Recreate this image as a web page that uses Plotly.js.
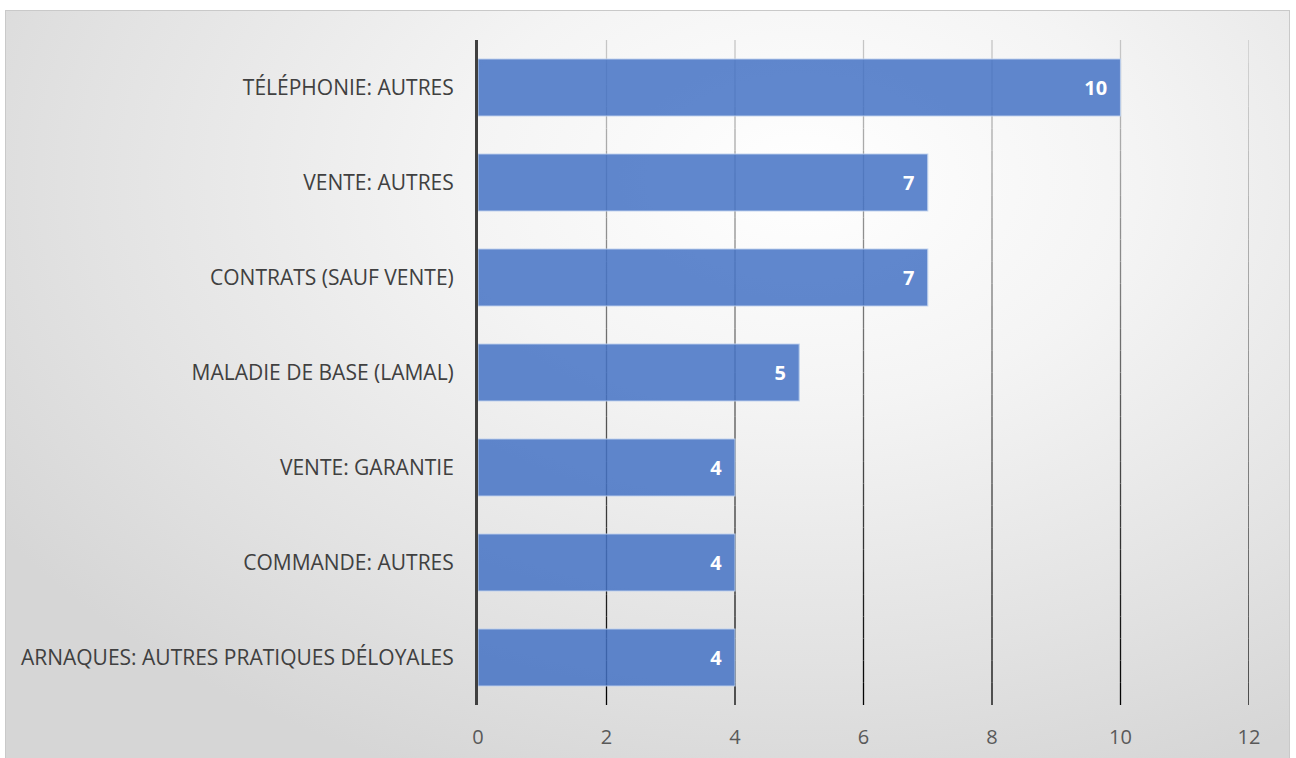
<!DOCTYPE html>
<html>
<head>
<meta charset="utf-8">
<script src="https://cdn.plot.ly/plotly-3.0.1.min.js"></script>
<style>
  html, body { margin: 0; padding: 0; width: 1296px; height: 758px; overflow: hidden; background: #ffffff; }
  #bg {
    position: absolute; left: 5px; top: 10px; width: 1285px; height: 760px;
    border: 1px solid #c9c9c9; box-sizing: border-box;
    background: radial-gradient(ellipse 75% 85% at 62% 22%, #ffffff 0%, #f4f4f4 35%, #e2e2e2 75%, #d6d6d6 100%);
  }
  #chart { position: absolute; left: 0; top: 0; width: 1296px; height: 758px; }
</style>
</head>
<body>
<div id="bg"></div>
<div id="chart"></div>
<script>
const categories = [
  "TÉLÉPHONIE: AUTRES",
  "VENTE: AUTRES",
  "CONTRATS (SAUF VENTE)",
  "MALADIE DE BASE (LAMAL)",
  "VENTE: GARANTIE",
  "COMMANDE: AUTRES",
  "ARNAQUES: AUTRES PRATIQUES DÉLOYALES"
];
const values = [10, 7, 7, 5, 4, 4, 4];
const xTicks = [0, 2, 4, 6, 8, 10, 12];

// gradient gridlines (light at top, black at bottom), built from tick values
const shapes = [];
const nSeg = 30;
xTicks.slice(1).forEach(function (t) {
  for (let i = 0; i < nSeg; i++) {
    const f = (i + 0.5) / nSeg; // 0 bottom -> 1 top
    const g = Math.round(0 + f * 200);
    shapes.push({
      type: 'line', xref: 'x', yref: 'paper', layer: 'below',
      x0: t, x1: t, y0: i / nSeg, y1: (i + 1) / nSeg,
      line: { color: 'rgb(' + g + ',' + g + ',' + g + ')', width: 1.3 }
    });
  }
});

const trace = {
  type: 'bar', orientation: 'h',
  y: categories, x: values,
  marker: { color: 'rgba(68,114,196,0.85)', line: { color: 'rgba(190,208,236,0.9)', width: 1.2 } },
  texttemplate: '<b>%{x}</b>\u00a0\u00a0',
  textposition: 'inside', insidetextanchor: 'end',
  textfont: { family: 'Open Sans, sans-serif', size: 20, color: '#ffffff' },
  hoverinfo: 'skip', cliponaxis: false
};

const layout = {
  width: 1296, height: 758,
  margin: { l: 478, r: 47, t: 40, b: 53, pad: 0 },
  paper_bgcolor: 'rgba(0,0,0,0)', plot_bgcolor: 'rgba(0,0,0,0)',
  showlegend: false,
  bargap: 0.4,
  shapes: shapes,
  xaxis: {
    range: [0, 12], tickvals: xTicks, ticktext: xTicks.map(String),
    showgrid: false, zeroline: false, showline: false, ticks: '',
    ticklabelstandoff: 18,
    tickfont: { family: 'Open Sans, sans-serif', size: 20, color: '#595959' }
  },
  yaxis: {
    type: 'category', autorange: 'reversed',
    showgrid: false, zeroline: false, ticks: '',
    showline: true, linecolor: '#404040', linewidth: 3,
    ticklabelstandoff: 17,
    tickfont: { family: 'Open Sans, sans-serif', size: 21, color: '#404040' }
  },
  font: { family: 'Open Sans, sans-serif' }
};

Plotly.newPlot('chart', [trace], layout, { displayModeBar: false, staticPlot: true });
</script>
</body>
</html>
